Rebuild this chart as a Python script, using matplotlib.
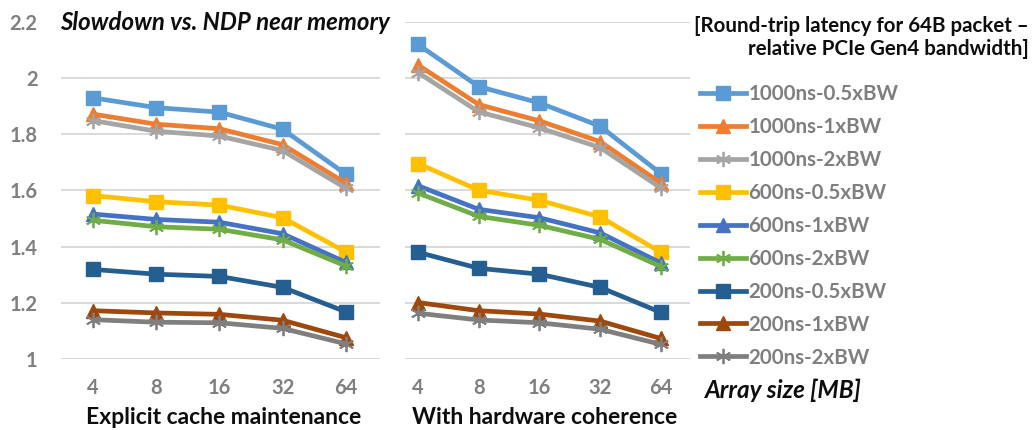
import matplotlib
matplotlib.use("Agg")
import matplotlib.pyplot as plt
from matplotlib.lines import Line2D

plt.rcParams['font.family'] = ['Lato', 'DejaVu Sans']

sizes = ["4", "8", "16", "32", "64"]
series_names = ["1000ns-0.5xBW", "1000ns-1xBW", "1000ns-2xBW",
                "600ns-0.5xBW", "600ns-1xBW", "600ns-2xBW",
                "200ns-0.5xBW", "200ns-1xBW", "200ns-2xBW"]

explicit = {
    "1000ns-0.5xBW": [1.930, 1.895, 1.879, 1.818, 1.658],
    "1000ns-1xBW":   [1.872, 1.836, 1.820, 1.763, 1.626],
    "1000ns-2xBW":   [1.849, 1.811, 1.794, 1.742, 1.608],
    "600ns-0.5xBW":  [1.582, 1.560, 1.548, 1.503, 1.381],
    "600ns-1xBW":    [1.516, 1.497, 1.487, 1.446, 1.344],
    "600ns-2xBW":    [1.494, 1.471, 1.462, 1.424, 1.331],
    "200ns-0.5xBW":  [1.319, 1.302, 1.294, 1.255, 1.168],
    "200ns-1xBW":    [1.172, 1.164, 1.159, 1.138, 1.076],
    "200ns-2xBW":    [1.140, 1.131, 1.129, 1.109, 1.054],
}
coherent = {
    "1000ns-0.5xBW": [2.120, 1.970, 1.912, 1.829, 1.660],
    "1000ns-1xBW":   [2.047, 1.906, 1.848, 1.774, 1.626],
    "1000ns-2xBW":   [2.020, 1.880, 1.823, 1.753, 1.609],
    "600ns-0.5xBW":  [1.696, 1.601, 1.565, 1.506, 1.380],
    "600ns-1xBW":    [1.617, 1.533, 1.503, 1.449, 1.342],
    "600ns-2xBW":    [1.591, 1.508, 1.476, 1.426, 1.329],
    "200ns-0.5xBW":  [1.380, 1.323, 1.302, 1.255, 1.166],
    "200ns-1xBW":    [1.201, 1.172, 1.160, 1.135, 1.073],
    "200ns-2xBW":    [1.163, 1.139, 1.129, 1.106, 1.052],
}
colors = ["#5B9BD5", "#ED7D31", "#A5A5A5", "#FFC000", "#4472C4",
          "#70AD47", "#255E91", "#9E480E", "#7F7F7F"]
markers = ["s", "^", (6, 2, 0)] * 3

yticks = [1.0, 1.2, 1.4, 1.6, 1.8, 2.0, 2.2]
ytick_labels = ["1", "1.2", "1.4", "1.6", "1.8", "2", "2.2"]

W, H = 1034, 430
fig = plt.figure(figsize=(W / 100, H / 100), dpi=100)

def px_axes(x0, x1, y_top, y_bot):
    return fig.add_axes([x0 / W, 1 - y_bot / H, (x1 - x0) / W, (y_bot - y_top) / H])

def fx(px):
    return px / W

def fy(py):
    return 1 - py / H

tick_gray = "#7F7F7F"
text_dark = "#0D0D0D"
ax1 = px_axes(61, 380, 22, 359)
ax2 = px_axes(405, 690, 22, 359)

def style_for(m, c):
    if isinstance(m, tuple):
        return dict(color=c, lw=3.4, marker=m, ms=11, mew=1.3, mec=c)
    return dict(color=c, lw=3.4, marker=m, ms=10, mec=c, mfc=c)

for ax, data, xl in [(ax1, explicit, (-0.506, 4.54)),
                     (ax2, coherent, (-0.214, 4.48))]:
    x = list(range(len(sizes)))
    for name, c, m in zip(series_names, colors, markers):
        ax.plot(x, data[name], zorder=3, solid_capstyle='round', **style_for(m, c))
    ax.set_ylim(1.0, 2.2)
    ax.set_xlim(*xl)
    ax.set_yticks(yticks)
    ax.grid(axis='y', color='#D9D9D9', lw=1.4)
    ax.set_axisbelow(True)
    for s in ax.spines.values():
        s.set_visible(False)
    ax.set_xticks(x)
    ax.set_xticklabels(sizes, fontsize=14.5, fontweight='bold', color=tick_gray)
    ax.tick_params(length=0)
    ax.tick_params(axis='x', pad=14)
    ax.set_facecolor('none')

ax1.set_yticklabels(ytick_labels, fontsize=14.5, fontweight='bold', color=tick_gray)
ax1.tick_params(axis='y', pad=17)
ax2.set_yticklabels([])

fig.text(fx(224), fy(424), "Explicit cache maintenance", fontsize=16.5,
         fontweight='bold', color=text_dark, ha='center', va='baseline')
fig.text(fx(545), fy(424), "With hardware coherence", fontsize=16.5,
         fontweight='bold', color=text_dark, ha='center', va='baseline')

fig.text(fx(60), fy(30), "Slowdown vs. NDP near memory", fontsize=17.3,
         fontweight='bold', fontstyle='italic', color=text_dark, va='baseline', ha='left',
         bbox=dict(facecolor='white', edgecolor='none', pad=2))

fig.text(fx(1029), fy(32), "[Round-trip latency for 64B packet \u2013",
         fontsize=14.8, fontweight='bold', color=text_dark, ha='right', va='baseline')
fig.text(fx(1029), fy(55), "relative PCIe Gen4 bandwidth]",
         fontsize=14.8, fontweight='bold', color=text_dark, ha='right', va='baseline')

handles = [Line2D([], [], **style_for(m, c)) for c, m in zip(colors, markers)]
leg = fig.legend(handles, series_names, loc='upper left',
                 bbox_to_anchor=(fx(700), fy(84)), frameon=False,
                 handlelength=2.25, handletextpad=0.1, labelspacing=0.63,
                 prop=dict(size=14.8, weight='bold'), borderaxespad=0, borderpad=0)
for t in leg.get_texts():
    t.set_color(tick_gray)

fig.text(fx(705), fy(398), "Array size [MB]", fontsize=17.5, fontweight='bold',
         fontstyle='italic', color=text_dark, ha='left', va='baseline')

fig.savefig("out.png", dpi=100)
